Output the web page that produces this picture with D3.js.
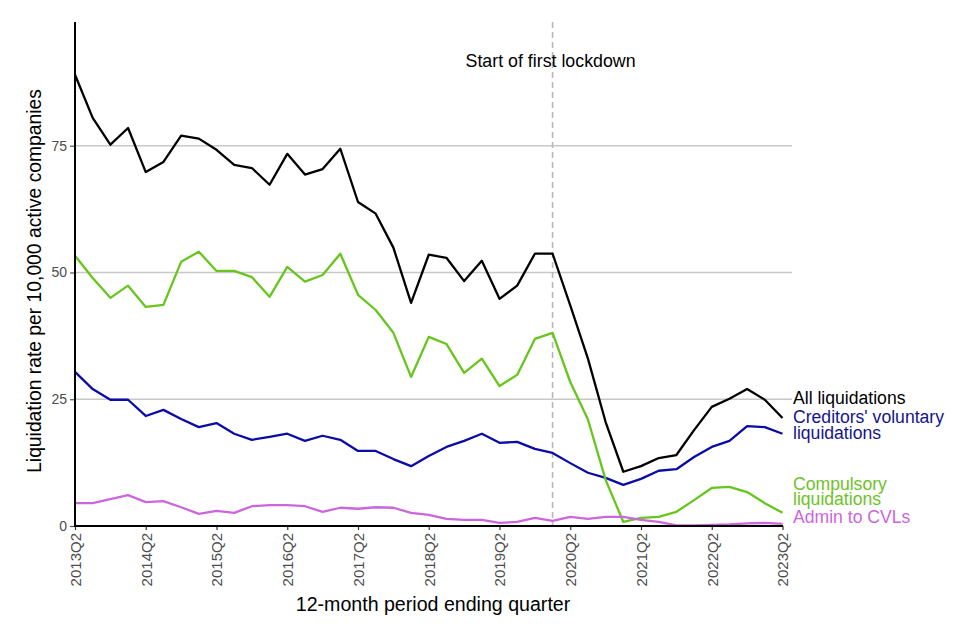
<!DOCTYPE html>
<html><head><meta charset="utf-8">
<script src="https://cdn.jsdelivr.net/npm/d3@7"></script>
<style>body{margin:0;background:#fff;font-family:"Liberation Sans",Arial,sans-serif;}</style>
</head><body><svg id="c" width="960" height="640"></svg>
<script>
const quarters = [];
for (let y = 2013; y <= 2023; y++) for (let q = 1; q <= 4; q++) {
  if ((y === 2013 && q < 2) || (y === 2023 && q > 2)) continue;
  quarters.push(y + "Q" + q);
}
const tickLabels = ["2013Q2","2014Q2","2015Q2","2016Q2","2017Q2","2018Q2","2019Q2","2020Q2","2021Q2","2022Q2","2023Q2"];
const allLiq = [89.0,80.5,75.2,78.5,69.8,71.8,77.0,76.4,74.2,71.2,70.6,67.3,73.4,69.3,70.4,74.4,63.9,61.6,54.9,44.0,53.5,52.9,48.3,52.3,44.8,47.4,53.7,53.7,43.5,33.0,20.5,10.7,11.8,13.4,14.0,18.9,23.5,25.1,27.0,24.9,21.3];
const compulsory = [53.3,48.9,45.0,47.4,43.2,43.6,52.1,54.1,50.3,50.3,49.1,45.2,51.1,48.2,49.5,53.7,45.6,42.6,38.1,29.4,37.3,35.9,30.2,33.0,27.6,29.8,36.9,38.1,28.4,21.0,9.1,0.8,1.6,1.8,2.8,5.1,7.5,7.7,6.7,4.5,2.6];
const cvl = [30.4,27.0,24.9,24.9,21.7,22.9,21.1,19.5,20.3,18.2,17.0,17.6,18.2,16.8,17.8,17.0,14.8,14.8,13.2,11.8,13.8,15.6,16.8,18.2,16.4,16.6,15.2,14.4,12.4,10.5,9.5,8.1,9.3,10.9,11.2,13.6,15.6,16.8,19.7,19.5,18.2];
const adminCvl = [4.5,4.5,5.3,6.1,4.7,4.9,3.7,2.4,3.0,2.6,3.9,4.1,4.1,3.9,2.8,3.6,3.4,3.7,3.6,2.6,2.2,1.4,1.2,1.2,0.6,0.8,1.6,1.0,1.8,1.4,1.8,1.8,1.2,0.8,0.1,0.1,0.2,0.3,0.5,0.6,0.4];
const yTicks = [0,25,50,75];
const seriesNames = [["All liquidations"],["Creditors' voluntary","liquidations"],["Compulsory","liquidations"],["Admin to CVLs"]];
const lockdownQuarter = "2020Q1";
const annotation = "Start of first lockdown";

const series = [
  {vals: allLiq, color: "#000000", label: seriesNames[0], ly: 399, lcol: "#000000"},
  {vals: cvl, color: "#0b0ba6", label: seriesNames[1], ly: 418.5, lcol: "#14148e"},
  {vals: compulsory, color: "#66c61c", label: seriesNames[2], ly: 485, lcol: "#6ec22a"},
  {vals: adminCvl, color: "#cc66dd", label: seriesNames[3], ly: 518, lcol: "#cc66dd"}
];

const svg = d3.select("#c");
const x = d3.scalePoint().domain(quarters).range([75, 782.5]);
const y = d3.scaleLinear().domain([0, 99.4]).range([526, 22]);

// gridlines
svg.append("g").selectAll("line").data(yTicks.filter(d => d > 0)).join("line")
  .attr("x1", 75).attr("x2", 792).attr("y1", d => y(d)).attr("y2", d => y(d))
  .attr("stroke", "#c8c8c8").attr("stroke-width", 1.6);

// lockdown line
svg.append("line").attr("x1", x(lockdownQuarter)).attr("x2", x(lockdownQuarter))
  .attr("y1", 22).attr("y2", 526).attr("stroke", "#b8b8b8").attr("stroke-width", 1.6)
  .attr("stroke-dasharray", "6,4");
svg.append("text").attr("x", x(lockdownQuarter) - 2).attr("y", 67).attr("text-anchor", "middle")
  .attr("font-size", 17.8).attr("fill", "#000").text(annotation);

// lines
const line = d3.line().x((d, i) => x(quarters[i])).y(d => y(d));
series.forEach(s => {
  svg.append("path").datum(s.vals).attr("d", line).attr("fill", "none")
    .attr("stroke", s.color).attr("stroke-width", 2.3).attr("stroke-linejoin", "round");
});

// axes
const yAxis = svg.append("g").attr("transform", "translate(75,0)")
  .call(d3.axisLeft(y).tickValues(yTicks).tickSize(5).tickPadding(3));
yAxis.select(".domain").remove();
yAxis.selectAll(".tick line").attr("stroke", "#555").attr("stroke-width", 1.2);
yAxis.selectAll("text").attr("font-size", 14).attr("fill", "#4d4d4d").attr("font-family", "Liberation Sans, Arial, sans-serif");
svg.append("line").attr("x1", 75).attr("x2", 75).attr("y1", 22).attr("y2", 527).attr("stroke", "#000").attr("stroke-width", 2);

const xAxis = svg.append("g").attr("transform", "translate(0,526)")
  .call(d3.axisBottom(x).tickValues(tickLabels).tickSize(4).tickPadding(3));
xAxis.select(".domain").remove();
svg.append("line").attr("x1", 74).attr("x2", 783).attr("y1", 526).attr("y2", 526).attr("stroke", "#000").attr("stroke-width", 2);
xAxis.selectAll(".tick line").attr("stroke", "#333").attr("stroke-width", 1.2);
xAxis.selectAll("text").attr("font-size", 15).attr("fill", "#4d4d4d")
  .attr("font-family", "Liberation Sans, Arial, sans-serif")
  .attr("transform", "rotate(-90)").attr("text-anchor", "end")
  .attr("x", -7).attr("y", 0).attr("dy", "0.36em");

// axis titles
svg.append("text").attr("x", 433).attr("y", 611).attr("text-anchor", "middle")
  .attr("font-size", 19.6).attr("fill", "#000").text("12-month period ending quarter");
svg.append("text").attr("transform", "translate(41,281) rotate(-90)").attr("text-anchor", "middle")
  .attr("font-size", 19.3).attr("fill", "#000").text("Liquidation rate per 10,000 active companies");

// series labels
series.forEach(s => {
  s.label.forEach((l, i) => {
    svg.append("text").attr("x", 793).attr("y", s.ly + i * 15.5).attr("font-size", 17.6)
      .attr("fill", s.lcol).attr("dominant-baseline", "middle").text(l);
  });
});
</script></body></html>
